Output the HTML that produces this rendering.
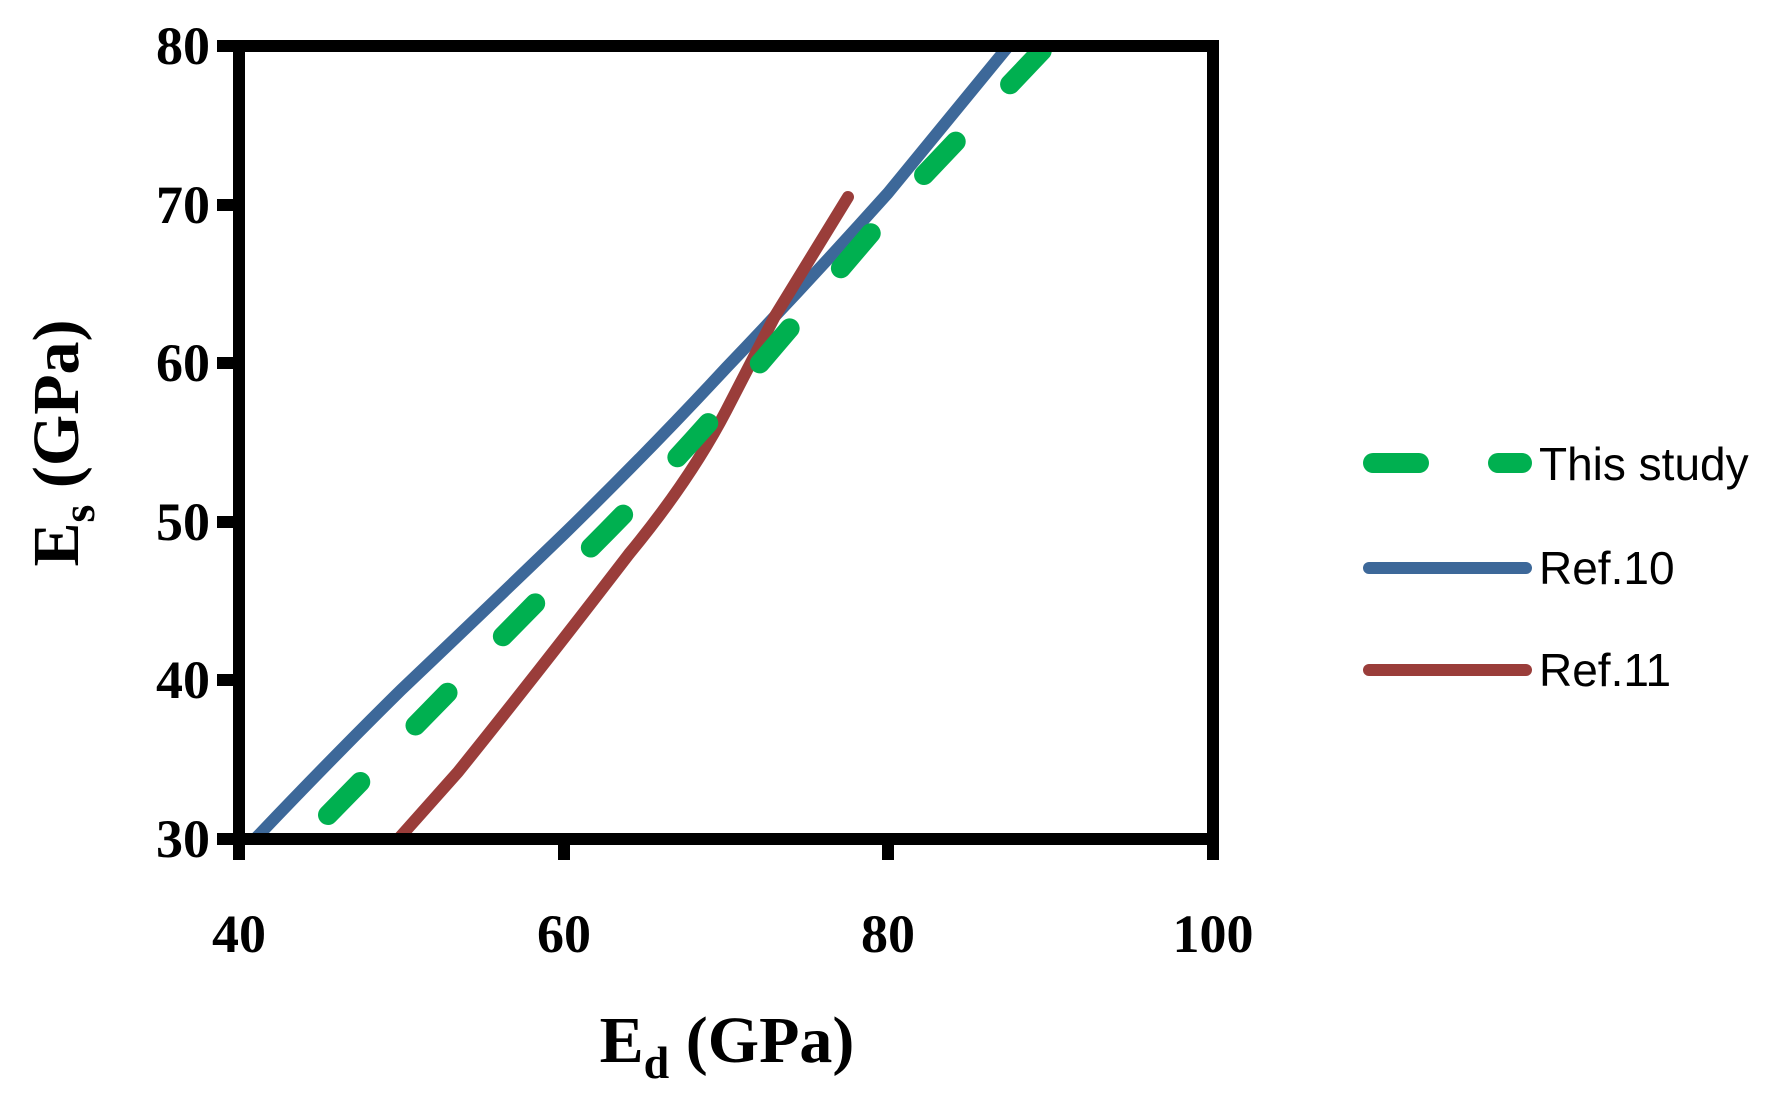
<!DOCTYPE html>
<html><head><meta charset="utf-8"><style>
html,body{margin:0;padding:0;background:#fff}
svg{display:block}
.t{font-family:"Liberation Serif",serif;font-weight:bold;font-size:54px;fill:#000}
.l{font-family:"Liberation Sans",sans-serif;font-size:46px;fill:#000}
</style></head><body>
<svg width="1772" height="1104" viewBox="0 0 1772 1104" xmlns="http://www.w3.org/2000/svg">
<defs><clipPath id="c"><rect x="239" y="46" width="974" height="793"/></clipPath></defs>
<g clip-path="url(#c)" fill="none" stroke-linejoin="round">
<path d="M255,839 Q330,760 401,690 Q480,615 564,534 Q650,450 726,368 Q810,280 888,193 L1020,32" stroke="#3d6899" stroke-width="12"/>
<path d="M393,845 L458,772 Q540,670 629,554 Q690,480 726,411 L775,316 L848,197" stroke="#9a3d3a" stroke-width="12" stroke-linecap="round"/>
<path d="M328,815 Q450,690 564,574 Q650,490 726,403 L888,213 L1054,38" stroke="#00b050" stroke-width="20" stroke-linecap="round" stroke-dasharray="46 79"/>
</g>
<rect x="239" y="46" width="974" height="793" fill="none" stroke="#000" stroke-width="12"/>
<g stroke="#000" stroke-width="12">
<line x1="217" y1="46" x2="239" y2="46"/><line x1="217" y1="205" x2="239" y2="205"/>
<line x1="217" y1="363" x2="239" y2="363"/><line x1="217" y1="522" x2="239" y2="522"/>
<line x1="217" y1="680" x2="239" y2="680"/><line x1="217" y1="839" x2="239" y2="839"/>
<line x1="239" y1="839" x2="239" y2="860"/><line x1="564" y1="839" x2="564" y2="860"/>
<line x1="888" y1="839" x2="888" y2="860"/><line x1="1213" y1="839" x2="1213" y2="860"/>
</g>
<g class="t" text-anchor="end">
<text x="210" y="64">80</text><text x="210" y="223">70</text><text x="210" y="381">60</text>
<text x="210" y="540">50</text><text x="210" y="698">40</text><text x="210" y="857">30</text>
</g>
<g class="t" text-anchor="middle">
<text x="239" y="952">40</text><text x="564" y="952">60</text><text x="888" y="952">80</text><text x="1213" y="952">100</text>
</g>
<text class="t" x="727" y="1062" text-anchor="middle" style="font-size:66px">E<tspan dy="16" style="font-size:46px">d</tspan><tspan dy="-16"> (GPa)</tspan></text>
<text class="t" transform="translate(78,443) rotate(-90)" text-anchor="middle" style="font-size:66px">E<tspan dy="16" style="font-size:46px">s</tspan><tspan dy="-16"> (GPa)</tspan></text>
<line x1="1373" y1="463" x2="1522" y2="463" stroke="#00b050" stroke-width="20" stroke-linecap="round" stroke-dasharray="46 79"/>
<line x1="1369" y1="568" x2="1526" y2="568" stroke="#3d6899" stroke-width="12" stroke-linecap="round"/>
<line x1="1369" y1="670" x2="1526" y2="670" stroke="#9a3d3a" stroke-width="12" stroke-linecap="round"/>
<text class="l" x="1539" y="480">This study</text>
<text class="l" x="1539" y="584">Ref.10</text>
<text class="l" x="1539" y="686">Ref.11</text>
</svg>
</body></html>
